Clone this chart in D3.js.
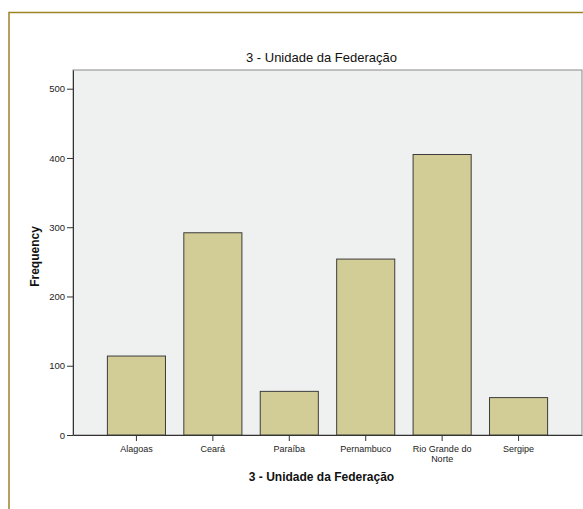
<!DOCTYPE html>
<html>
<head>
<meta charset="utf-8">
<script src="https://cdn.jsdelivr.net/npm/d3@7"></script>
<style>
body { margin: 0; background: #fff; }
svg { font-family: "Liberation Sans", Arial, sans-serif; }
</style>
</head>
<body>
<script>
// categories and counts
var estados = ["Alagoas", "Ceará", "Paraíba", "Pernambuco", "Rio Grande do Norte", "Sergipe"];
var frequencias = [114, 292, 63, 254, 405, 54];
var yTicks = [0, 100, 200, 300, 400, 500];
var titulo = "3 - Unidade da Federação";

var width = 583, height = 509;
// note: "top" is taken by window.top, so use other names
var pLeft = 73, pRight = 582, pTop = 70, pBottom = 435;

var svg = d3.select("body").append("svg")
	.attr("width", width)
	.attr("height", height);

// gold frame
svg.append("rect")
	.attr("x", 9).attr("y", 12.5)
	.attr("width", 600).attr("height", 520)
	.attr("fill", "#fff")
	.attr("stroke", "#9a8428")
	.attr("stroke-width", 1.5);

var x = d3.scaleBand()
	.domain(estados)
	.range([pLeft, pRight])
	.paddingInner(0.24)
	.paddingOuter(0.45);

var y = d3.scaleLinear()
	.domain([0, 527])
	.range([pBottom, pTop]);

// plot area
svg.append("rect")
	.attr("x", pLeft).attr("y", pTop)
	.attr("width", pRight - pLeft).attr("height", pBottom - pTop)
	.attr("fill", "#eff0f0")
	.attr("stroke", "#8a8a8a")
	.attr("stroke-width", 1);

svg.selectAll("rect.bar")
	.data(estados)
	.enter()
	.append("rect")
	.attr("class", "bar")
	.attr("x", function(d){ return x(d); })
	.attr("width", x.bandwidth())
	.attr("y", function(d, i){ return y(frequencias[i]); })
	.attr("height", function(d, i){ return pBottom - y(frequencias[i]); })
	.attr("fill", "#d2cd96")
	.attr("stroke", "#3c3c3c")
	.attr("stroke-width", 1);

// y axis
var yAxis = svg.append("g")
	.attr("transform", "translate(" + pLeft + ",0)")
	.call(d3.axisLeft(y).tickValues(yTicks).tickSize(6).tickSizeOuter(0).tickPadding(2));
yAxis.select(".domain").attr("stroke", "#333");
yAxis.selectAll("line").attr("stroke", "#333");
yAxis.selectAll("text").attr("font-size", 9.5).attr("fill", "#222")
	.attr("font-family", "Liberation Sans, Arial, sans-serif");

// x axis
var xAxis = svg.append("g")
	.attr("transform", "translate(0," + pBottom + ")")
	.call(d3.axisBottom(x).tickSize(6).tickSizeOuter(0).tickPadding(4));
xAxis.select(".domain").attr("stroke", "#333");
xAxis.selectAll("line").attr("stroke", "#333");
xAxis.selectAll("text").remove();

// category labels, Rio Grande do Norte wraps
var quebras = { "Rio Grande do Norte": ["Rio Grande do", "Norte"] };
svg.selectAll("text.cat")
	.data(estados)
	.enter()
	.append("text")
	.attr("class", "cat")
	.attr("x", function(d){ return x(d) + x.bandwidth() / 2; })
	.attr("y", pBottom + 17)
	.attr("text-anchor", "middle")
	.attr("font-size", 9)
	.attr("fill", "#222")
	.each(function(d){
		var linhas = quebras[d] || [d];
		var t = d3.select(this);
		linhas.forEach(function(l, i){
			t.append("tspan")
				.attr("x", x(d) + x.bandwidth() / 2)
				.attr("dy", i == 0 ? 0 : 9.5)
				.text(l);
		});
	});

// titles
svg.append("text")
	.attr("x", (pLeft + pRight) / 2 - 6).attr("y", 62)
	.attr("text-anchor", "middle")
	.attr("font-size", 13)
	.attr("fill", "#111")
	.text(titulo);

svg.append("text")
	.attr("x", (pLeft + pRight) / 2 - 6).attr("y", 481)
	.attr("text-anchor", "middle")
	.attr("font-size", 12)
	.attr("font-weight", "bold")
	.attr("fill", "#111")
	.text(titulo);

svg.append("text")
	.attr("transform", "translate(39," + ((pTop + pBottom) / 2 + 4) + ") rotate(-90)")
	.attr("text-anchor", "middle")
	.attr("font-size", 12)
	.attr("font-weight", "bold")
	.attr("fill", "#111")
	.text("Frequency");
</script>
</body>
</html>
